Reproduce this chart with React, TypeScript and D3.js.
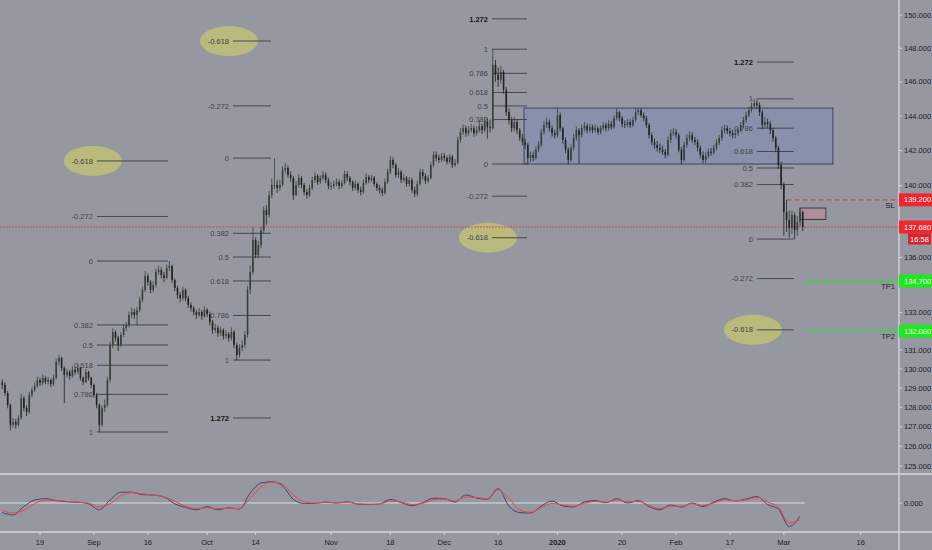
import React from "react";
import * as d3 from "d3";

const W = 932;
const H = 550;

const firstOpen = 129.3;
const closes = [
  129.16, 128.74, 128.12, 127.1, 127.25, 127.1, 127.45, 128.48, 127.96, 127.76,
  128.64, 128.9, 129.11, 129.42, 129.27, 129.53, 129.32, 129.42, 129.21, 129.53,
  130.37, 130.58, 130.05, 129.69, 129.84, 129.63, 129.95, 129.84, 130.05, 129.53,
  129.32, 129.84, 129.53, 129.16, 128.64, 128.12, 127.1, 127.96, 128.12, 129.42,
  131.27, 131.96, 131.64, 131.27, 131.8, 132.17, 132.33, 132.87, 133.03, 132.87,
  133.13, 133.68, 134.22, 134.98, 134.65, 134.22, 134.49, 135.2, 135.31, 135.03,
  134.87, 135.42, 135.52, 134.76, 134.33, 133.95, 133.78, 134.22, 133.78, 133.41,
  133.24, 133.03, 132.87, 133.03, 132.81, 133.14, 132.92, 132.49, 132.06, 132.17,
  131.9, 132.06, 131.74, 131.85, 131.64, 131.96, 131.27, 130.74, 131.11, 131.27,
  131.8, 134.22, 135.2, 136.96, 136.13, 136.68, 137.48, 138.62, 138.35, 139.47,
  140.04, 140.04, 139.87, 140.04, 140.89, 141.0, 140.61, 140.44, 139.47, 140.04,
  140.44, 140.04, 139.64, 139.47, 139.87, 140.32, 140.55, 140.21, 140.44, 140.61,
  140.32, 139.98, 139.98, 140.1, 140.21, 139.98, 140.15, 140.66, 140.44, 140.21,
  139.87, 140.1, 139.76, 139.64, 140.15, 140.49, 140.32, 140.44, 140.1, 139.87,
  139.76, 139.59, 140.21, 140.78, 141.46, 141.17, 140.61, 140.78, 140.32, 140.44,
  140.1, 140.32, 139.76, 139.53, 140.1, 140.78, 140.55, 140.27, 140.44, 141.17,
  141.75, 141.58, 141.46, 141.69, 141.58, 141.35, 141.64, 141.17, 141.29, 142.61,
  143.06, 143.29, 143.0, 143.17, 143.29, 143.0, 143.17, 143.41, 143.17, 143.65,
  143.35, 143.29, 147.0, 146.41, 146.12, 146.59, 145.53, 144.22, 143.76, 143.29,
  143.65, 143.17, 142.72, 142.49, 142.33, 141.58, 141.75, 141.58, 142.05, 142.33,
  143.06, 143.47, 143.65, 143.29, 143.0, 142.89, 144.05, 143.29, 142.61, 142.05,
  141.46, 142.16, 142.72, 143.17, 142.89, 143.29, 143.41, 143.17, 143.35, 143.17,
  143.29, 143.06, 143.29, 143.47, 143.29, 143.53, 143.35, 143.88, 144.22, 143.88,
  143.53, 143.47, 143.65, 143.47, 143.76, 144.22, 144.34, 144.05, 143.88, 143.47,
  142.89, 142.49, 142.33, 142.16, 142.05, 141.93, 141.75, 142.61, 143.0, 143.06,
  142.89, 142.05, 141.46, 142.33, 142.72, 142.89, 142.61, 142.49, 142.16, 141.75,
  141.46, 141.69, 141.93, 141.87, 142.16, 142.44, 142.72, 143.17, 143.29, 143.12,
  143.0, 142.89, 143.0, 143.17, 143.47, 143.76, 144.05, 144.34, 144.58, 144.75,
  144.63, 144.22, 143.47, 143.65, 143.53, 143.17, 142.72, 142.16, 141.17, 140.04,
  138.52, 138.07, 137.62, 138.35, 137.51, 137.96, 138.52, 137.68,
];
const highs = [
  129.45, 129.3, 128.85, 128.2, 127.45, 127.4, 127.6, 128.7, 128.6, 128.1,
  128.8, 129.05, 129.3, 129.6, 129.55, 129.7, 129.65, 129.58, 129.5, 129.7,
  130.55, 130.75, 130.65, 130.15, 130.0, 129.95, 130.15, 130.1, 130.25, 130.1,
  129.6, 130.0, 129.9, 129.6, 129.25, 128.75, 128.2, 128.1, 128.4, 129.6,
  131.45, 132.15, 132.05, 131.75, 131.95, 132.35, 132.5, 133.05, 133.25, 133.2,
  133.3, 133.85, 134.4, 135.25, 135.1, 134.75, 134.7, 135.4, 135.55, 135.45,
  135.2, 135.6, 135.8, 135.6, 134.85, 134.45, 134.1, 134.4, 134.3, 133.9,
  133.55, 133.35, 133.15, 133.25, 133.15, 133.35, 133.25, 133.05, 132.6, 132.4,
  132.3, 132.25, 132.15, 132.05, 131.95, 132.2, 132.05, 131.4, 131.3, 131.5,
  132.0, 134.45, 135.55, 137.65, 137.1, 136.9, 137.7, 138.85, 138.9, 139.7,
  140.4, 141.57, 140.3, 140.35, 141.1, 141.3, 141.15, 140.8, 140.55, 140.25,
  140.65, 140.55, 140.15, 139.8, 140.05, 140.5, 140.75, 140.65, 140.6, 140.85,
  140.75, 140.45, 140.2, 140.3, 140.4, 140.35, 140.3, 140.85, 140.8, 140.55,
  140.3, 140.3, 140.2, 139.95, 140.35, 140.7, 140.6, 140.6, 140.55, 140.2,
  140.05, 139.9, 140.4, 140.95, 141.7, 141.6, 141.3, 141.0, 140.9, 140.65,
  140.55, 140.5, 140.45, 139.95, 140.3, 140.95, 140.95, 140.7, 140.6, 141.35,
  141.95, 141.95, 141.75, 141.85, 141.85, 141.7, 141.8, 141.75, 141.5, 142.8,
  143.3, 143.5, 143.45, 143.4, 143.55, 143.45, 143.4, 143.75, 143.55, 143.9,
  143.85, 143.8, 147.94, 147.3, 146.85, 146.95, 146.7, 145.7, 144.45, 143.95,
  143.95, 143.8, 143.3, 142.95, 142.7, 142.45, 141.95, 141.95, 142.25, 142.55,
  143.25, 143.7, 143.9, 143.8, 143.45, 143.2, 144.45, 144.2, 143.4, 142.75,
  142.2, 142.35, 142.95, 143.4, 143.3, 143.5, 143.65, 143.55, 143.55, 143.5,
  143.5, 143.4, 143.45, 143.65, 143.6, 143.75, 143.7, 144.05, 144.45, 144.3,
  144.0, 143.75, 143.85, 143.8, 143.95, 144.45, 144.45, 144.45, 144.2, 144.0,
  143.6, 143.05, 142.7, 142.55, 142.4, 142.3, 142.1, 142.8, 143.2, 143.3,
  143.25, 143.0, 142.2, 142.5, 142.95, 143.1, 143.05, 142.8, 142.65, 142.3,
  141.95, 141.9, 142.1, 142.15, 142.35, 142.65, 142.9, 143.4, 143.5, 143.45,
  143.3, 143.2, 143.2, 143.35, 143.65, 143.95, 144.25, 144.55, 144.8, 145.0,
  144.95, 144.8, 144.35, 143.95, 143.85, 143.7, 143.3, 142.85, 142.3, 141.35,
  140.2, 139.2, 138.6, 138.6, 138.5, 138.3, 138.75, 138.6,
];
const lows = [
  128.95, 128.6, 127.95, 126.82, 126.95, 126.9, 127.0, 127.35, 127.8, 127.55,
  127.65, 128.5, 128.8, 129.0, 129.1, 129.15, 129.2, 129.18, 129.05, 129.1,
  129.45, 130.2, 129.9, 128.22, 129.55, 129.45, 129.55, 129.7, 129.75, 129.4,
  129.15, 129.25, 129.4, 129.0, 128.5, 127.95, 126.73, 127.0, 127.75, 128.0,
  129.3, 131.1, 131.45, 130.95, 131.15, 131.7, 132.0, 132.2, 132.7, 132.65,
  132.33, 133.0, 133.55, 134.1, 134.45, 134.05, 134.1, 134.35, 135.05, 134.85,
  134.65, 134.8, 135.25, 134.6, 134.15, 133.75, 133.55, 133.65, 133.6, 133.25,
  133.05, 132.85, 132.65, 132.75, 132.6, 132.7, 132.75, 132.3, 131.85, 131.9,
  131.7, 131.75, 131.55, 131.6, 131.45, 131.5, 131.1, 130.47, 130.6, 130.95,
  131.1, 131.65, 134.0, 135.05, 135.95, 135.95, 136.5, 137.3, 137.8, 138.2,
  139.3, 139.8, 139.6, 139.7, 139.95, 140.7, 140.45, 140.2, 139.2, 139.4,
  139.9, 139.85, 139.45, 139.25, 139.35, 139.75, 140.15, 140.05, 140.1, 140.3,
  140.15, 139.8, 139.75, 139.85, 139.95, 139.8, 139.85, 140.05, 140.25, 140.0,
  139.7, 139.75, 139.6, 139.45, 139.55, 140.05, 140.15, 140.2, 139.95, 139.7,
  139.55, 139.4, 139.5, 140.1, 140.65, 141.0, 140.45, 140.45, 140.15, 140.2,
  139.95, 139.95, 139.6, 139.35, 139.4, 140.0, 140.35, 140.1, 140.15, 140.35,
  141.05, 141.4, 141.3, 141.35, 141.4, 141.2, 141.25, 141.0, 141.05, 141.2,
  142.45, 142.9, 142.8, 142.85, 143.05, 142.8, 142.85, 143.05, 142.95, 143.05,
  142.7, 143.05, 143.2, 146.0, 145.7, 145.9, 145.3, 144.0, 143.5, 143.05,
  143.1, 142.95, 142.55, 142.3, 142.1, 141.23, 141.35, 141.4, 141.45, 141.9,
  142.2, 142.9, 143.3, 143.1, 142.8, 142.7, 142.75, 143.1, 142.4, 141.85,
  141.22, 141.35, 142.0, 142.55, 141.25, 142.75, 143.1, 143.0, 143.05, 143.0,
  143.05, 142.9, 142.95, 143.15, 143.1, 143.15, 143.2, 143.25, 143.75, 143.7,
  143.35, 143.3, 143.35, 143.3, 143.35, 143.65, 144.05, 143.9, 143.7, 143.3,
  142.7, 142.3, 142.1, 141.95, 141.85, 141.75, 141.55, 141.65, 142.45, 142.85,
  142.7, 141.9, 141.2, 141.35, 142.15, 142.55, 142.45, 142.3, 141.95, 141.55,
  141.28, 141.3, 141.55, 141.7, 141.75, 142.0, 142.3, 142.55, 143.0, 142.95,
  142.8, 142.7, 142.7, 142.85, 143.05, 143.3, 143.6, 143.9, 144.2, 144.4,
  144.4, 144.0, 143.25, 143.3, 143.3, 142.95, 142.5, 141.9, 140.95, 139.8,
  137.2, 137.4, 137.1, 137.3, 137.01, 137.2, 137.7, 137.45,
];

// oscillator, one reading every 4 bars
const oscStep = 4;
const macdLine = [
  -0.24, -0.3, -0.09, 0.075, 0.11, 0.06, 0.03, 0.02, -0.02, -0.17,
  0.075, 0.27, 0.27, 0.21, 0.2, 0.15, -0.02, -0.11, -0.17, -0.09,
  -0.17, -0.12, -0.15, 0.25, 0.5, 0.53, 0.43, 0.09, -0.01, -0.01,
  0.025, 0, 0.03, -0.03, -0.04, -0.025, 0.09, 0.01, -0.07, 0.01,
  0.12, 0.11, 0.025, 0.2, 0.125, 0.09, 0.36, -0.08, -0.24, -0.25,
  -0.075, 0.05, -0.075, -0.1, 0.025, 0.06, 0.01, 0.11, 0, 0.06,
  -0.09, -0.17, -0.05, -0.1, 0, -0.09, 0.025, 0.11, 0.05, 0.1,
  0.16, -0.04, -0.15, -0.59, -0.33,
];
const signalLine = [
  -0.18, -0.25, -0.18, -0.02, 0.07, 0.07, 0.04, 0.02, 0.0, -0.1,
  -0.02, 0.18, 0.26, 0.23, 0.2, 0.16, 0.04, -0.08, -0.14, -0.12,
  -0.14, -0.13, -0.14, 0.12, 0.4, 0.52, 0.47, 0.2, 0.03, 0.0,
  0.02, 0.0, 0.02, -0.02, -0.03, -0.03, 0.05, 0.03, -0.04, -0.01,
  0.08, 0.1, 0.05, 0.15, 0.14, 0.1, 0.33, 0.12, -0.18, -0.23,
  -0.12, -0.01, -0.05, -0.08, -0.01, 0.04, 0.02, 0.08, 0.03, 0.04,
  -0.06, -0.14, -0.08, -0.08, -0.02, -0.06, 0.0, 0.08, 0.06, 0.08,
  0.14, 0.02, -0.1, -0.5, -0.42,
];

const priceTicks = [150, 148, 146, 144, 142, 140, 136, 133, 131, 130, 129, 128, 127, 126, 125];
const hiddenTicks = [138];
const dateLabels = ["19", "Sep", "16", "Oct", "14", "Nov", "18", "Dec", "16", "2020", "20", "Feb", "17", "Mar", "16"];
const dateBars = [14, 34, 54, 76, 94, 122, 144, 164, 184, 206, 230, 250, 270, 290, 318.5];

const fibLevels = [-0.618, -0.272, 0, 0.382, 0.5, 0.618, 0.786, 1, 1.272];
const fibZero = [135.8, 141.57, 141.23, 137.01];
const fibOne = [126.73, 130.47, 147.94, 145.0];
const fibFrom = [35.1, 85.6, 181.7, 280];
const fibTo = [61.5, 99.7, 194.7, 293.7];

const rangeBox = { from: 193.6, to: 308.2, top: 144.46, bottom: 141.23 };
const entryBox = { from: 296, to: 305.6, top: 138.74, bottom: 138.1 };

const lastPrice = 137.68;
const stopLoss = 139.2;
const stopFrom = 291;
const targets = [134.7, 132.0];
const targetNames = ["TP1", "TP2"];
const targetFrom = 298.6;
const countdown = "16:58";

const FONT = "'Liberation Sans', Arial, sans-serif";
const BG = "#9598a1";
const RED = "#f0262f";
const GREEN = "#1ee81e";

export default function App() {
  const axisX = 899;
  const sepY = 474;
  const botY = 532;
  const x = d3.scaleLinear().domain([0, closes.length - 1]).range([2.3, 802.7]);
  const y = d3.scaleLog().domain([125, 150]).range([466, 15]);
  const yo = d3.scaleLinear().domain([-0.6, 0.6]).range([527, 479]);
  const opens = closes.map((c, i) => (i === 0 ? firstOpen : closes[i - 1]));

  const oscLine = d3
    .line<number>()
    .x((_, i) => x(i * oscStep))
    .y((d) => yo(d))
    .curve(d3.curveMonotoneX);

  const fmt = (v: number) => v.toFixed(3);

  return (
    <svg
      width={W}
      height={H}
      viewBox={`0 0 ${W} ${H}`}
      style={{ position: "fixed", left: 0, top: 0, display: "block" }}
      fontFamily={FONT}
    >
      <defs>
        <clipPath id="mainClip">
          <rect x={0} y={0} width={axisX} height={sepY} />
        </clipPath>
        <clipPath id="oscClip">
          <rect x={0} y={sepY + 1} width={axisX} height={botY - sepY - 1} />
        </clipPath>
      </defs>
      <rect x={0} y={0} width={W} height={H} fill={BG} />

      <g clipPath="url(#mainClip)">
        {/* range box */}
        <rect
          x={x(rangeBox.from)}
          y={y(rangeBox.top)}
          width={x(rangeBox.to) - x(rangeBox.from)}
          height={y(rangeBox.bottom) - y(rangeBox.top)}
          fill="rgba(105,125,200,0.28)"
          stroke="#3b4460"
          strokeWidth={1}
        />

        {/* fib ellipses */}
        {fibZero.map((p0, k) => {
          const p = p0 + -0.618 * (fibOne[k] - p0);
          return (
            <ellipse
              key={"el" + k}
              cx={x(fibFrom[k]) - 4}
              cy={y(p)}
              rx={29}
              ry={15}
              fill="rgba(228,228,80,0.45)"
            />
          );
        })}

        {/* fib retracements */}
        {fibZero.map((p0, k) => (
          <g key={"fib" + k}>
            {fibLevels.map((lv) => {
              const p = p0 + lv * (fibOne[k] - p0);
              const yy = y(p);
              const bold = lv === 1.272;
              return (
                <g key={lv}>
                  <line
                    x1={x(fibFrom[k])}
                    x2={x(fibTo[k])}
                    y1={yy}
                    y2={yy}
                    stroke="#454850"
                    strokeWidth={1}
                  />
                  <text
                    x={x(fibFrom[k]) - 4}
                    y={yy}
                    dy="0.35em"
                    textAnchor="end"
                    fontSize={7.5}
                    fontWeight={bold ? "bold" : "normal"}
                    fill={bold ? "#151515" : "#40434b"}
                  >
                    {String(lv)}
                  </text>
                </g>
              );
            })}
          </g>
        ))}

        {/* last price line */}
        <line x1={0} x2={axisX} y1={y(lastPrice)} y2={y(lastPrice)} stroke="#e2434b" strokeWidth={1} strokeDasharray="2,1" />

        {/* SL / TP lines */}
        <line x1={x(stopFrom)} x2={axisX} y1={y(stopLoss)} y2={y(stopLoss)} stroke="#e2434b" strokeWidth={1.4} strokeDasharray="5,3" />
        <text x={axisX - 4} y={y(stopLoss) + 8} textAnchor="end" fontSize={8} fill="#222">SL</text>
        {targets.map((t, k) => (
          <g key={"tp" + k}>
            <line x1={x(targetFrom)} x2={axisX} y1={y(t)} y2={y(t)} stroke={GREEN} strokeWidth={1.6} strokeDasharray="5,3" />
            <text x={axisX - 4} y={y(t) + 8} textAnchor="end" fontSize={7.5} fill="#222">{targetNames[k]}</text>
          </g>
        ))}

        {/* entry box */}
        <rect
          x={x(entryBox.from)}
          y={y(entryBox.top)}
          width={x(entryBox.to) - x(entryBox.from)}
          height={y(entryBox.bottom) - y(entryBox.top)}
          fill="rgba(200,130,150,0.45)"
          stroke="#3c3c3c"
          strokeWidth={1}
        />

        {/* candles */}
        {closes.map((c, i) => {
          const o = opens[i];
          const cx = x(i);
          const top = y(Math.max(o, c));
          const bot = y(Math.min(o, c));
          const col = c >= o ? "#36413a" : "#202321";
          return (
            <g key={"c" + i}>
              <line x1={cx} x2={cx} y1={y(highs[i])} y2={y(lows[i])} stroke={col} strokeWidth={0.8} />
              <rect x={cx - 0.8} y={top} width={1.6} height={Math.max(0.8, bot - top)} fill={col} />
            </g>
          );
        })}
      </g>

      {/* oscillator */}
      <g clipPath="url(#oscClip)">
        <line x1={0} x2={x(closes.length - 1) + 2} y1={yo(0)} y2={yo(0)} stroke="#dcdee3" strokeWidth={1.2} />
        <path d={oscLine(macdLine) || ""} fill="none" stroke="#3e4670" strokeWidth={1} />
        <path d={oscLine(signalLine) || ""} fill="none" stroke="#f0434b" strokeWidth={1} />
      </g>

      {/* separators and axes */}
      <line x1={0} x2={W} y1={sepY} y2={sepY} stroke="#d6d8dd" strokeWidth={1.3} />
      <line x1={0} x2={W} y1={botY} y2={botY} stroke="#d6d8dd" strokeWidth={1.3} />
      <line x1={axisX} x2={axisX} y1={0} y2={H} stroke="#d6d8dd" strokeWidth={1.3} />

      {priceTicks.map((p) => (
        <g key={"pt" + p}>
          <line x1={axisX} x2={axisX + 3} y1={y(p)} y2={y(p)} stroke="#d6d8dd" />
          <text x={axisX + 5} y={y(p)} dy="0.35em" fontSize={7.5} fill="#1c1c1c">{fmt(p)}</text>
        </g>
      ))}
      {hiddenTicks.map((p) => (
        <line key={"ht" + p} x1={axisX} x2={axisX + 3} y1={y(p)} y2={y(p)} stroke="#d6d8dd" />
      ))}
      <line x1={axisX} x2={axisX + 3} y1={yo(0)} y2={yo(0)} stroke="#d6d8dd" />
      <text x={axisX + 5} y={yo(0)} dy="0.35em" fontSize={7.5} fill="#1c1c1c">{fmt(0)}</text>

      {dateLabels.map((lab, k) => (
        <g key={"dt" + k}>
          <line x1={x(dateBars[k])} x2={x(dateBars[k])} y1={botY} y2={botY + 3} stroke="#d6d8dd" />
          <text
            x={x(dateBars[k])}
            y={545}
            textAnchor="middle"
            fontSize={7.5}
            fontWeight={lab === "2020" ? "bold" : "normal"}
            fill="#1c1c1c"
          >
            {lab}
          </text>
        </g>
      ))}

      {/* price markers on axis */}
      {[stopLoss, lastPrice].map((p, k) => (
        <g key={"rm" + k}>
          <rect x={axisX} y={y(p) - 6.5} width={W - axisX} height={13} fill={RED} />
          <text x={axisX + 5} y={y(p)} dy="0.35em" fontSize={7.5} fill="#fff">{fmt(p)}</text>
        </g>
      ))}
      <rect x={axisX + 9} y={y(lastPrice) + 6.5} width={W - axisX - 10} height={11} fill="#d8232c" />
      <text x={axisX + 9 + (W - axisX - 10) / 2} y={y(lastPrice) + 12} dy="0.35em" textAnchor="middle" fontSize={7.5} fill="#fff">{countdown}</text>
      {targets.map((t, k) => (
        <g key={"gm" + k}>
          <rect x={axisX} y={y(t) - 6.5} width={W - axisX} height={13} fill={GREEN} />
          <text x={axisX + 5} y={y(t)} dy="0.35em" fontSize={7.5} fill="#f4fff4">{fmt(t)}</text>
        </g>
      ))}
    </svg>
  );
}
